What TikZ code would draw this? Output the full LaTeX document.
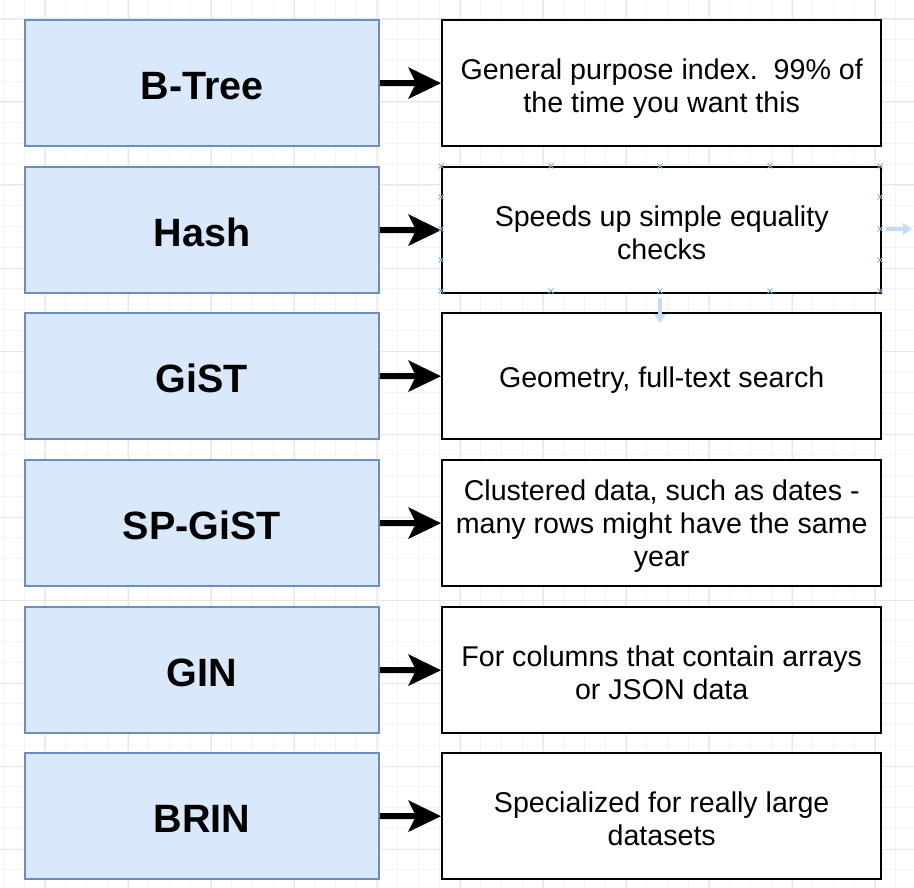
\documentclass[tikz,border=0pt]{standalone}
\usepackage{fontspec}
\setmainfont{Liberation Sans}
\usetikzlibrary{arrows.meta}
\definecolor{lfill}{HTML}{DAE8FC}
\definecolor{lline}{HTML}{6C8EBF}
\definecolor{gminor}{HTML}{F3F3F3}
\definecolor{gmajor}{HTML}{E6E6E6}
\definecolor{selblue}{HTML}{7FB2E5}
\definecolor{hintblue}{HTML}{C3DDF2}
\newcommand{\desclines}[1]{\parbox[b]{436pt}{\centering #1}}
\begin{document}
\begin{tikzpicture}[x=1pt,y=-1pt,
  kindbox/.style={draw=lline, fill=lfill, line width=2pt, minimum width=354pt, minimum height=126pt, anchor=north west, inner sep=0pt,
    text height=32.6pt, text depth=0pt, font=\fontsize{39.5}{46}\selectfont\bfseries},
  descbox/.style={draw=black, fill=white, line width=2.4pt, minimum width=439pt, minimum height=126pt, anchor=north west, inner sep=0pt,
    text depth=0pt, font=\fontsize{28.6}{33}\selectfont},
  oneline/.style={descbox, text height=22pt},
  twolines/.style={descbox, text height=58pt},
  threelines/.style={descbox, text height=86.6pt},
  conn/.style={line width=6pt, -{Stealth[length=33pt,width=32pt,inset=8pt,line width=0pt]}},
  gridminorline/.style={gminor, line width=0.8pt},
  gridmajorline/.style={gmajor, line width=1pt},
  handle/.style={selblue, line width=0.8pt},
  hint/.style={hintblue, line width=4pt, -{Triangle[length=9pt,width=12pt,line width=0pt]}}
]
\useasboundingbox (0,0) rectangle (914,888);
\fill[white] (0,0) rectangle (914,888);
% grid
\foreach \i in {-1,...,43} {
  \draw[gridminorline] ({24+20.75*\i},0) -- ({24+20.75*\i},888);
  \draw[gridminorline] (0,{19+20.75*\i}) -- (914,{19+20.75*\i});
}
\foreach \i in {0,...,10} {
  \draw[gridmajorline] ({45+83*\i},0) -- ({45+83*\i},888);
  \draw[gridmajorline] (0,{19+83*\i}) -- (914,{19+83*\i});
}
% boxes
\node[kindbox] (l1) at (24,19)  {B-Tree};
\node[kindbox] (l2) at (24,166) {Hash};
\node[kindbox] (l3) at (24,312) {GiST};
\node[kindbox] (l4) at (24,459) {SP-GiST};
\node[kindbox] (l5) at (24,606) {GIN};
\node[kindbox] (l6) at (24,752) {BRIN};
\node[twolines] (r1) at (441,19)  {\desclines{General purpose index.\ \ 99\% of\\the time you want this}};
\node[twolines] (r2) at (441,166) {\desclines{Speeds up simple equality\\checks}};
\node[oneline] (r3) at (441,312) {\desclines{Geometry, full-text search}};
\node[threelines] (r4) at (441,459) {\desclines{Clustered data, such as dates -\\many rows might have the same\\year}};
\node[twolines] (r5) at (441,606) {\desclines{For columns that contain arrays\\or JSON data}};
\node[twolines] (r6) at (441,752) {\desclines{Specialized for really large\\datasets}};
% connectors
\foreach \k in {1,...,6} { \draw[conn] (l\k.east) -- (r\k.west); }
% selection handles on the Hash description box
\foreach \px/\py in {441/166,551/166,660/166,770/166,880/166,441/291,551/291,660/291,770/291,880/291,441/197,441/229,441/260,880/197,880/229,880/260} {
  \draw[handle] (\px-2.5,\py-2.5) -- (\px+2.5,\py+2.5) (\px-2.5,\py+2.5) -- (\px+2.5,\py-2.5);
}
\coordinate (hr0) at (886,229);
\coordinate (hr1) at (912,229);
\coordinate (hd0) at (660,298);
\coordinate (hd1) at (660,323);
\draw[hint] (hr0) -- (hr1);
\draw[hint] (hd0) -- (hd1);
\end{tikzpicture}
\end{document}
